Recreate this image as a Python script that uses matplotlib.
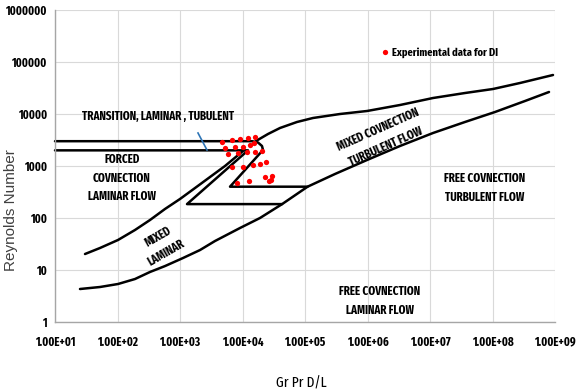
import matplotlib
matplotlib.use("Agg")
import matplotlib.pyplot as plt
from matplotlib.ticker import FixedLocator, NullLocator

# ---- regime boundaries (Gr Pr D/L, Reynolds number) ----
free_conv_x = [25.1, 52.5, 102, 190.5, 331, 575, 1117, 2089, 3631, 9120,
               19050, 43000, 110000, 302000, 982000, 3.31e6, 1.117e7, 3.63e7,
               1.096e8, 3.31e8, 8.02e8]
free_conv_y = [4.31, 4.71, 5.38, 6.71, 9.16, 11.9, 17.0, 24.2, 36.1, 64.2,
               100, 185, 400, 702, 1304, 2425, 4310, 7020,
               10920, 17780, 26500]

mixed_turb_x = [16440, 25590, 39810, 74470, 134300, 363100, 982000,
                3.31e6, 1.117e7, 3.63e7, 1.019e8, 2.754e8, 9.29e8]
mixed_turb_y = [3027, 4125, 5380, 7020, 8380, 10000, 11420,
                14890, 20300, 25330, 30260, 39460, 56230]

forced_x = [30.2, 52.5, 102, 190.5, 331, 575, 1000, 1738, 3020, 5248, 10190]
forced_y = [20.3, 26.5, 37.8, 58.8, 91.5, 149, 232, 377, 614, 1000, 1943]

# upper transition line (Re = 3000) folding back down to Re = 400
upper_x = [10, 14190, 17700, 20510, 21280, 6310, 110000]
upper_y = [3000, 3000, 2830, 2425, 2030, 400, 400]

# lower transition line (Re = 2000) folding back down to Re = 185
lower_x = [10, 12250, 1294, 43000]
lower_y = [2000, 2000, 185, 185]

marker_x = [1941, 2704]
marker_y = [4315, 2030]

# ---- experimental points ----
exp_x = [4650, 6720, 9120, 12400, 15600, 15300, 5250, 7590, 10100, 13200,
         20300, 5930, 8570, 12000, 15800, 6720, 10100, 14600, 19400, 23800,
         8070, 12600, 23300, 28100, 29300, 26100]
exp_y = [2930, 3162, 3260, 3410, 3565, 2735, 2190, 2290, 2350, 2535,
         1970, 1680, 1755, 1820, 1885, 970, 970, 1023, 1103, 1194,
         477, 526, 606, 550, 642, 504]

x_ticks = [1e1, 1e2, 1e3, 1e4, 1e5, 1e6, 1e7, 1e8, 1e9]
x_labels = ["1.00E+01", "1.00E+02", "1.00E+03", "1.00E+04", "1.00E+05",
            "1.00E+06", "1.00E+07", "1.00E+08", "1.00E+09"]
y_ticks = [1, 10, 100, 1000, 10000, 100000, 1000000]
y_labels = ["1", "10", "100", "1000", "10000", "100000", "1000000"]

narrow = ["Fira Sans Extra Condensed", "Carlito", "DejaVu Sans"]

fig = plt.figure(figsize=(5.77, 3.92), dpi=100)
ax = fig.add_axes([55 / 577, 70 / 392, 500 / 577, 312 / 392])
ax.set_xscale("log")
ax.set_yscale("log")
ax.set_xlim(1e1, 1e9)
ax.set_ylim(1, 1e6)

ax.xaxis.set_major_locator(FixedLocator(x_ticks))
ax.yaxis.set_major_locator(FixedLocator(y_ticks))
ax.xaxis.set_minor_locator(NullLocator())
ax.yaxis.set_minor_locator(NullLocator())
ax.set_xticklabels(x_labels, fontfamily=narrow, fontweight="bold", fontsize=8.6)
ax.set_yticklabels(y_labels, fontfamily=narrow, fontweight="bold", fontsize=8.6)
ax.tick_params(axis="y", length=0, pad=6)
ax.tick_params(axis="x", length=0, pad=10)

ax.grid(True, color="#d9d9d9", linewidth=0.8)
ax.set_axisbelow(True)
for side in ("top", "right"):
    ax.spines[side].set_visible(False)
for side in ("left", "bottom"):
    ax.spines[side].set_color("#a6a6a6")
    ax.spines[side].set_linewidth(1.0)

lw = 1.8
for xs, ys in [(free_conv_x, free_conv_y), (mixed_turb_x, mixed_turb_y),
               (forced_x, forced_y), (upper_x, upper_y), (lower_x, lower_y)]:
    ax.plot(xs, ys, color="black", linewidth=lw, solid_joinstyle="round",
            solid_capstyle="round", clip_on=False)
ax.plot(marker_x, marker_y, color="#2e75b6", linewidth=1.2)

ax.plot(exp_x, exp_y, linestyle="none", marker="o", markersize=3.8,
        color="red", markeredgewidth=0, label="Experimental data for DI")
ax.legend(loc="center left", bbox_to_anchor=(0.655, 0.862), frameon=False,
          borderpad=0, borderaxespad=0, handlelength=0.5, handletextpad=0.35,
          prop={"family": narrow, "weight": "bold", "size": 8.2})

txt = dict(fontfamily=narrow, fontweight="bold", fontsize=8.6, ha="center",
           va="center", linespacing=1.6)
ax.text(445, 9160, "TRANSITION, LAMINAR , TUBULENT", **txt)
ax.text(118, 588, "FORCED\nCOVNECTION\nLAMINAR FLOW", **txt)
ax.text(515, 30.3, "MIXED\nLAMINAR", rotation=30, **txt)
ax.text(1.71e6, 3455, "MIXED COVNECTION\nTURBULENT FLOW", rotation=24, **txt)
ax.text(7.59e7, 377, "FREE COVNECTION\nTURBULENT FLOW", **txt)
ax.text(1.585e6, 2.53, "FREE COVNECTION\nLAMINAR FLOW", **txt)

fig.text(301 / 577, 1 - 383 / 392, "Gr Pr D/L", ha="center", va="center",
         fontsize=10.5, family=narrow)
fig.text(11 / 577, 1 - 210 / 392, "Reynolds Number", ha="center", va="center",
         rotation=90, fontsize=11, family=["Liberation Sans", "DejaVu Sans"],
         color="#404040")

fig.savefig("out.png", dpi=100)
